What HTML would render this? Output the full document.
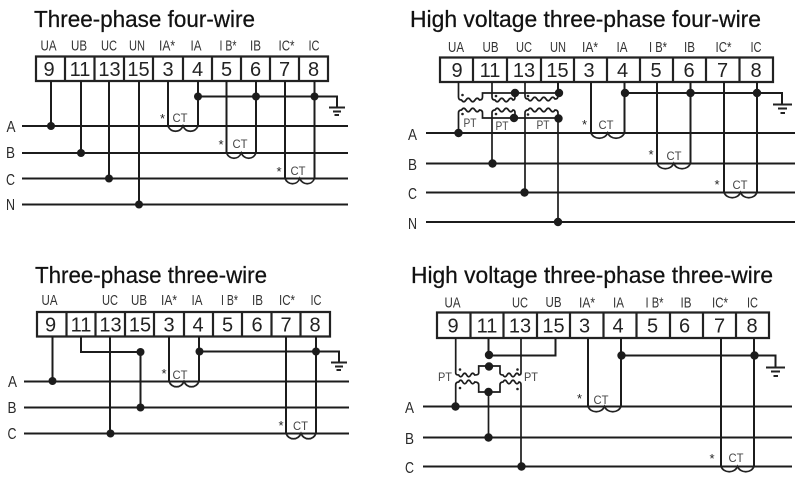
<!DOCTYPE html>
<html><head><meta charset="utf-8">
<style>
html,body{margin:0;padding:0;background:#fff;width:800px;height:481px;overflow:hidden}
svg{display:block}
.w{fill:none;stroke:#1c1c1c;stroke-width:2}
.p{fill:none;stroke:#1c1c1c;stroke-width:1.7}
.b{fill:none;stroke:#222;stroke-width:2.2}
.c{fill:none;stroke:#222;stroke-width:1.7}
.g{fill:none;stroke:#222;stroke-width:2}
.t{font:23px "Liberation Sans",sans-serif;fill:#111;stroke:#111;stroke-width:.25}
.n{font:20px "Liberation Sans",sans-serif;fill:#222;text-anchor:middle}
.l{font:15px "Liberation Sans",sans-serif;fill:#333;text-anchor:middle}
.r{font:16px "Liberation Sans",sans-serif;fill:#2a2a2a;text-anchor:middle}
.s{font:11.500px "Liberation Sans",sans-serif;fill:#444;text-anchor:middle}
.a{font:13px "Liberation Sans",sans-serif;fill:#222;text-anchor:middle}
circle{fill:#1c1c1c}
circle.d{fill:#222}
</style></head><body>
<svg width="800" height="481" viewBox="0 0 800 481" xmlns="http://www.w3.org/2000/svg">
<!-- titles -->
<text class="t" x="34" y="27" textLength="221" lengthAdjust="spacingAndGlyphs">Three-phase four-wire</text>
<text class="t" x="410" y="27" textLength="351" lengthAdjust="spacingAndGlyphs">High voltage three-phase four-wire</text>
<text class="t" x="35" y="283" textLength="232" lengthAdjust="spacingAndGlyphs">Three-phase three-wire</text>
<text class="t" x="411" y="283" textLength="362" lengthAdjust="spacingAndGlyphs">High voltage three-phase three-wire</text>

<!-- PANEL 1 -->
<path class="b" d="M36 56.500H328V81H36ZM65 56.500V81M94.500 56.500V81M124 56.500V81M153 56.500V81M183 56.500V81M212 56.500V81M241 56.500V81M270 56.500V81M299 56.500V81"/>
<g class="n"><text x="49" y="76">9</text><text x="80" y="76">11</text><text x="109.500" y="76">13</text><text x="138.500" y="76">15</text><text x="168" y="76">3</text><text x="197.500" y="76">4</text><text x="226.500" y="76">5</text><text x="255.500" y="76">6</text><text x="284.500" y="76">7</text><text x="313.500" y="76">8</text></g>
<g class="l"><text x="48.500" y="50.500" textLength="16" lengthAdjust="spacingAndGlyphs">UA</text><text x="79" y="50.500" textLength="16" lengthAdjust="spacingAndGlyphs">UB</text><text x="109" y="50.500" textLength="16" lengthAdjust="spacingAndGlyphs">UC</text><text x="137" y="50.500" textLength="16" lengthAdjust="spacingAndGlyphs">UN</text><text x="167" y="50.500" textLength="16" lengthAdjust="spacingAndGlyphs">IA*</text><text x="196" y="50.500" textLength="11" lengthAdjust="spacingAndGlyphs">IA</text><text x="228" y="50.500" textLength="17" lengthAdjust="spacingAndGlyphs">I B*</text><text x="255.500" y="50.500" textLength="11" lengthAdjust="spacingAndGlyphs">IB</text><text x="286.500" y="50.500" textLength="16" lengthAdjust="spacingAndGlyphs">IC*</text><text x="314" y="50.500" textLength="11" lengthAdjust="spacingAndGlyphs">IC</text></g>
<path class="w" d="M22 126H348M22 153H348M22 178.500H348M22 204.500H348M51 81V126M81 81V153M109 81V178.500M139 81V204.500M168 81V126M198 81V126M226.500 81V153M256 81V153M285 81V178.500M314.500 81V178.500M198 96.500H337V107"/>
<path class="g" d="M329 107.500H345M333 111.500H341M334.500 115H339"/>
<path class="c" d="M168 126c3 7 12 7 15 0c3 7 12 7 15 0M226.500 153c3 7 12 7 14.750 0c3 7 12 7 14.750 0M285 178.500c3 7 12 7 14.750 0c3 7 12 7 14.750 0"/>
<circle cx="51" cy="126" r="4"/><circle cx="81" cy="153" r="4"/><circle cx="109" cy="178.500" r="4"/><circle cx="139" cy="204.500" r="4"/><circle cx="198" cy="96.500" r="4"/><circle cx="256" cy="96.500" r="4"/><circle cx="314.500" cy="96.500" r="4"/>
<text class="a" x="162.500" y="123">*</text><text class="s" x="180" y="122" textLength="15" lengthAdjust="spacingAndGlyphs">CT</text>
<text class="a" x="221" y="149">*</text><text class="s" x="240" y="148" textLength="15" lengthAdjust="spacingAndGlyphs">CT</text>
<text class="a" x="279" y="176">*</text><text class="s" x="298" y="175" textLength="15" lengthAdjust="spacingAndGlyphs">CT</text>
<g class="r"><text x="11" y="132" textLength="9" lengthAdjust="spacingAndGlyphs">A</text><text x="10.500" y="158" textLength="9" lengthAdjust="spacingAndGlyphs">B</text><text x="10.500" y="185" textLength="9" lengthAdjust="spacingAndGlyphs">C</text><text x="10.500" y="210" textLength="9" lengthAdjust="spacingAndGlyphs">N</text></g>

<!-- PANEL 2 -->
<path class="b" d="M440 57.500H773V82H440ZM473 57.500V82M507 57.500V82M541 57.500V82M574 57.500V82M607 57.500V82M640 57.500V82M673 57.500V82M706 57.500V82M739.500 57.500V82"/>
<g class="n"><text x="457" y="77">9</text><text x="490" y="77">11</text><text x="524" y="77">13</text><text x="557.500" y="77">15</text><text x="589" y="77">3</text><text x="622.500" y="77">4</text><text x="656" y="77">5</text><text x="689" y="77">6</text><text x="722.500" y="77">7</text><text x="756" y="77">8</text></g>
<g class="l"><text x="456" y="52" textLength="16" lengthAdjust="spacingAndGlyphs">UA</text><text x="490.500" y="52" textLength="16" lengthAdjust="spacingAndGlyphs">UB</text><text x="524" y="52" textLength="16" lengthAdjust="spacingAndGlyphs">UC</text><text x="558" y="52" textLength="16" lengthAdjust="spacingAndGlyphs">UN</text><text x="590" y="52" textLength="16" lengthAdjust="spacingAndGlyphs">IA*</text><text x="622" y="52" textLength="11" lengthAdjust="spacingAndGlyphs">IA</text><text x="658" y="52" textLength="18" lengthAdjust="spacingAndGlyphs">I B*</text><text x="689.500" y="52" textLength="11" lengthAdjust="spacingAndGlyphs">IB</text><text x="723.500" y="52" textLength="16" lengthAdjust="spacingAndGlyphs">IC*</text><text x="756" y="52" textLength="11" lengthAdjust="spacingAndGlyphs">IC</text></g>
<path class="w" d="M426 133H795M426 163.500H795M426 192.500H795M426 222H795M591 82V133M624.500 82V133M657 82V163.500M690.500 82V163.500M724 82V192.500M757 82V192.500M624.500 93H782V104M558 82V93"/>
<path class="g" d="M773 104.500H792M778 108.500H787M780.500 113H785"/>
<path class="c" d="M591 133c3 7 13.500 7 16.750 0c3 7 13.500 7 16.750 0M657 163.500c3 7 13.500 7 16.750 0c3 7 13.500 7 16.750 0M724 192.500c3 7 13.500 7 16.500 0c3 7 13.500 7 16.500 0"/>
<path class="p" d="M458.500 82V97q0 3 3 3q2.250 3.500 4.500 0t4.500 0t4.500 0t4.500 0q3 0 3-3V93H558M492 82V97q0 3 3 3q2.250 3.500 4.500 0t4.500 0t4.500 0t4.500 0q2 0 2-3V93M525 82V96q0 3 3 3q2.250 3.500 4.500 0t4.500 0t4.500 0t4.500 0t4.500 0t4.500 0q3 0 3-3V93M458.500 133V113q0-3 3-3q2.250-3.500 4.500 0t4.500 0t4.500 0t4.500 0q3 0 3 3V118H558M492 163.500V113q0-3 3-3q2.250-3.500 4.500 0t4.500 0t4.500 0t4.500 0q2 0 2 3V118M525 192.500V113q0-3 3-3q2.250-3.500 4.500 0t4.500 0t4.500 0t4.500 0t4.500 0t4.500 0q3 0 3 3V222"/>
<circle cx="458.500" cy="133" r="4.200"/><circle cx="492.500" cy="163.500" r="4.200"/><circle cx="524.500" cy="192.500" r="4.200"/><circle cx="558" cy="222" r="4.200"/><circle cx="515" cy="93" r="4.200"/><circle cx="559" cy="93" r="4.200"/><circle cx="514" cy="118" r="4.200"/><circle cx="558.500" cy="118.500" r="4.200"/><circle cx="625" cy="93" r="4.200"/><circle cx="690.500" cy="93" r="4.200"/><circle cx="757" cy="93" r="4.200"/>
<circle class="d" cx="462.500" cy="95" r="1.300"/><circle class="d" cx="496" cy="96" r="1.300"/><circle class="d" cx="528" cy="96" r="1.300"/><circle class="d" cx="462.500" cy="114" r="1.300"/><circle class="d" cx="496" cy="114" r="1.300"/><circle class="d" cx="528" cy="114.500" r="1.300"/>
<text class="s" x="470" y="127" textLength="13" lengthAdjust="spacingAndGlyphs">PT</text><text class="s" x="502" y="130" textLength="13" lengthAdjust="spacingAndGlyphs">PT</text><text class="s" x="543" y="129" textLength="13" lengthAdjust="spacingAndGlyphs">PT</text>
<text class="a" x="584.500" y="129">*</text><text class="s" x="606" y="129" textLength="15" lengthAdjust="spacingAndGlyphs">CT</text>
<text class="a" x="651" y="159">*</text><text class="s" x="674" y="160" textLength="15" lengthAdjust="spacingAndGlyphs">CT</text>
<text class="a" x="717" y="189">*</text><text class="s" x="740" y="189" textLength="15" lengthAdjust="spacingAndGlyphs">CT</text>
<g class="r"><text x="412.500" y="140" textLength="9" lengthAdjust="spacingAndGlyphs">A</text><text x="412.500" y="170" textLength="9" lengthAdjust="spacingAndGlyphs">B</text><text x="412.500" y="199" textLength="9" lengthAdjust="spacingAndGlyphs">C</text><text x="412.500" y="229" textLength="9" lengthAdjust="spacingAndGlyphs">N</text></g>

<!-- PANEL 3 -->
<path class="b" d="M37 312H330V336.500H37ZM66.500 312V336.500M95.500 312V336.500M125 312V336.500M154 312V336.500M184 312V336.500M213 312V336.500M242 312V336.500M271.500 312V336.500M300.500 312V336.500"/>
<g class="n"><text x="50.500" y="331.500">9</text><text x="81" y="331.500">11</text><text x="110.500" y="331.500">13</text><text x="140" y="331.500">15</text><text x="169" y="331.500">3</text><text x="198" y="331.500">4</text><text x="227.500" y="331.500">5</text><text x="257" y="331.500">6</text><text x="286" y="331.500">7</text><text x="315" y="331.500">8</text></g>
<g class="l"><text x="49.500" y="305" textLength="16" lengthAdjust="spacingAndGlyphs">UA</text><text x="110" y="305" textLength="16" lengthAdjust="spacingAndGlyphs">UC</text><text x="139" y="305" textLength="16" lengthAdjust="spacingAndGlyphs">UB</text><text x="169" y="305" textLength="16" lengthAdjust="spacingAndGlyphs">IA*</text><text x="197" y="305" textLength="11" lengthAdjust="spacingAndGlyphs">IA</text><text x="229.500" y="305" textLength="17" lengthAdjust="spacingAndGlyphs">I B*</text><text x="257.500" y="305" textLength="11" lengthAdjust="spacingAndGlyphs">IB</text><text x="287" y="305" textLength="16" lengthAdjust="spacingAndGlyphs">IC*</text><text x="316" y="305" textLength="11" lengthAdjust="spacingAndGlyphs">IC</text></g>
<path class="w" d="M24 381.500H349M24 407.500H349M24 433.500H349M52.500 336.500V381.500M81 336.500V352H140.500V407.500M110 336.500V433.500M169 336.500V381.500M199 336.500V381.500M286 336.500V433.500M316 336.500V433.500M199 351.500H339V362"/>
<path class="g" d="M331 362.500H347M335 366.500H343M336.500 370H341"/>
<path class="c" d="M169 381.500c3 7 12 7 15 0c3 7 12 7 15 0M286 433.500c3 7 12 7 15 0c3 7 12 7 15 0"/>
<circle cx="52.500" cy="381" r="4"/><circle cx="140.500" cy="352" r="4"/><circle cx="140.500" cy="407.500" r="4"/><circle cx="110.500" cy="433.500" r="4"/><circle cx="199.500" cy="351.500" r="4"/><circle cx="316" cy="351.500" r="4"/>
<text class="a" x="164" y="378">*</text><text class="s" x="180" y="379" textLength="15" lengthAdjust="spacingAndGlyphs">CT</text>
<text class="a" x="281" y="430">*</text><text class="s" x="300.500" y="430" textLength="15" lengthAdjust="spacingAndGlyphs">CT</text>
<g class="r"><text x="12.500" y="387" textLength="9" lengthAdjust="spacingAndGlyphs">A</text><text x="12" y="413" textLength="9" lengthAdjust="spacingAndGlyphs">B</text><text x="12" y="439" textLength="9" lengthAdjust="spacingAndGlyphs">C</text></g>

<!-- PANEL 4 -->
<path class="b" d="M437 312.500H769V338H437ZM470.500 312.500V338M503.500 312.500V338M537 312.500V338M570 312.500V338M603.500 312.500V338M636.500 312.500V338M670 312.500V338M703 312.500V338M736 312.500V338"/>
<g class="n"><text x="453" y="332.500">9</text><text x="487" y="332.500">11</text><text x="520" y="332.500">13</text><text x="553.500" y="332.500">15</text><text x="584.500" y="332.500">3</text><text x="618" y="332.500">4</text><text x="652.500" y="332.500">5</text><text x="684.500" y="332.500">6</text><text x="719.500" y="332.500">7</text><text x="752" y="332.500">8</text></g>
<g class="l"><text x="452.500" y="307.500" textLength="16" lengthAdjust="spacingAndGlyphs">UA</text><text x="520" y="307.500" textLength="16" lengthAdjust="spacingAndGlyphs">UC</text><text x="553.500" y="307" textLength="16" lengthAdjust="spacingAndGlyphs">UB</text><text x="587" y="307.500" textLength="16" lengthAdjust="spacingAndGlyphs">IA*</text><text x="618.500" y="307.500" textLength="11" lengthAdjust="spacingAndGlyphs">IA</text><text x="654.500" y="307.500" textLength="18" lengthAdjust="spacingAndGlyphs">I B*</text><text x="686" y="307.500" textLength="11" lengthAdjust="spacingAndGlyphs">IB</text><text x="720" y="307.500" textLength="16" lengthAdjust="spacingAndGlyphs">IC*</text><text x="752.500" y="307.500" textLength="11" lengthAdjust="spacingAndGlyphs">IC</text></g>
<path class="w" d="M423 406.500H792M423 437.500H792M423 466.500H792M588 338V406.500M621 338V406.500M721 338V466.500M754 338V466.500M621 355.500H775.500V367M488.500 338V355.500H555.500V338"/>
<path class="g" d="M766 367.500H785M771 371.500H780M773.500 376H778"/>
<path class="c" d="M588 406.500c3 7 13.500 7 16.500 0c3 7 13.500 7 16.500 0M721 466.500c3 7 13.500 7 16.500 0c3 7 13.500 7 16.500 0"/>
<path class="p" d="M455.700 338V373q0 2 3 2q2 3.500 4 0t4 0t4 0t4 0q4 0 4-2V366H500V373q0 2 3 2q2 3.500 4 0t4 0t4 0t4 0q2 0 2-2V338M455.700 406.500V385q0-3 3-3q2-3.500 4 0t4 0t4 0t4 0q4 0 4 3V392H500V385q0-3 3-3q2-3.500 4 0t4 0t4 0t4 0q2 0 2 3V466.500M488.500 392V437.500"/>
<circle cx="489" cy="355" r="4.200"/><circle cx="489" cy="366.500" r="4.200"/><circle cx="488.500" cy="392" r="4.200"/><circle cx="455.500" cy="406.500" r="4.200"/><circle cx="488.500" cy="437.500" r="4.200"/><circle cx="521.500" cy="466.500" r="4.200"/><circle cx="621.500" cy="355.500" r="4.200"/><circle cx="754.500" cy="355.500" r="4.200"/>
<circle class="d" cx="460" cy="369.500" r="1.300"/><circle class="d" cx="517.500" cy="369.500" r="1.300"/><circle class="d" cx="460" cy="388" r="1.300"/><circle class="d" cx="517.500" cy="389" r="1.300"/>
<text class="s" x="445" y="381" textLength="14" lengthAdjust="spacingAndGlyphs">PT</text><text class="s" x="531" y="381" textLength="14" lengthAdjust="spacingAndGlyphs">PT</text>
<text class="a" x="579.500" y="403">*</text><text class="s" x="601" y="404" textLength="15" lengthAdjust="spacingAndGlyphs">CT</text>
<text class="a" x="712" y="463">*</text><text class="s" x="736" y="462" textLength="15" lengthAdjust="spacingAndGlyphs">CT</text>
<g class="r"><text x="409.500" y="413" textLength="9" lengthAdjust="spacingAndGlyphs">A</text><text x="409.500" y="444" textLength="9" lengthAdjust="spacingAndGlyphs">B</text><text x="409.500" y="473" textLength="9" lengthAdjust="spacingAndGlyphs">C</text></g>
</svg>
</body></html>
